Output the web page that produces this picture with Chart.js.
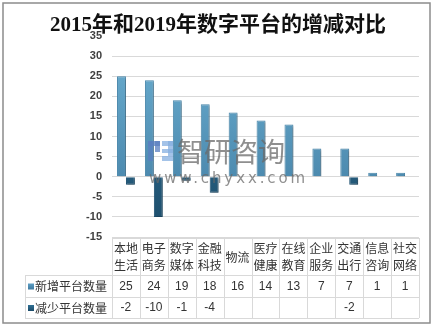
<!DOCTYPE html>
<html>
<head>
<meta charset="utf-8">
<script src="https://cdn.jsdelivr.net/npm/chart.js@4/dist/chart.umd.min.js"></script>
<style>
  html, body { margin: 0; padding: 0; background: #fff; }
  #wrap { width: 438px; height: 328px; position: relative; }
</style>
</head>
<body>
<div id="wrap"><canvas id="c" width="438" height="328"></canvas></div>
<script>
// Platform categories (header cells of the data table)
const categories = ['本地生活', '电子商务', '数字媒体', '金融科技', '物流', '医疗健康', '在线教育', '企业服务', '交通出行', '信息咨询', '社交网络'];
// Number of platforms added between 2015 and 2019
const addedCounts = [25, 24, 19, 18, 16, 14, 13, 7, 7, 1, 1];
// Number of platforms removed (blank where none)
const removedCounts = [-2, -10, -1, -4, null, null, null, null, -2, null, null];
const seriesNames = ['新增平台数量', '减少平台数量'];
const yTicks = [-15, -10, -5, 0, 5, 10, 15, 20, 25, 30, 35];
const titleText = '2015年和2019年数字平台的增减对比';

const CJK = '"Noto Sans CJK SC", "Noto Sans", sans-serif';

function barGradient(ctx, top, bottom, light, dark) {
  const g = ctx.createLinearGradient(0, top, 0, bottom);
  g.addColorStop(0, light);
  g.addColorStop(1, dark);
  return g;
}

const lightFill = (c) => {
  const a = c.chart.chartArea;
  if (!a) return '#5d9ec4';
  return barGradient(c.chart.ctx, a.top, a.bottom, '#6db1d3', '#3f7aa0');
};
const darkFill = (c) => {
  const a = c.chart.chartArea;
  if (!a) return '#245c7e';
  return barGradient(c.chart.ctx, a.top, a.bottom, '#3a7ea3', '#1b4b69');
};

// Frame, title, watermark and the data table below the plot
const decorations = {
  id: 'decorations',
  beforeDraw(chart) {
    const ctx = chart.ctx;
    ctx.save();
    ctx.fillStyle = '#ffffff';
    ctx.fillRect(0, 0, chart.width, chart.height);
    ctx.strokeStyle = '#8c8c8c';
    ctx.lineWidth = 1.5;
    ctx.strokeRect(3, 3, 427, 320);
    ctx.restore();
  },
  beforeDatasetsDraw(chart) {
    const ctx = chart.ctx;
    ctx.save();
    ctx.shadowColor = 'rgba(0,0,0,0.28)';
    ctx.shadowOffsetX = 1.5;
    ctx.shadowOffsetY = 1.5;
    ctx.shadowBlur = 2;
  },
  afterDatasetsDraw(chart) {
    chart.ctx.restore();
  },
  afterDraw(chart) {
    const ctx = chart.ctx;
    const x = chart.scales.x;
    const area = chart.chartArea;
    const n = categories.length;
    const step = (area.right - area.left) / n;

    // title
    ctx.save();
    ctx.fillStyle = '#111';
    ctx.font = 'bold 21px "Liberation Serif", ' + CJK;
    ctx.textAlign = 'center';
    ctx.textBaseline = 'middle';
    ctx.fillText(titleText, 218, 26);
    ctx.restore();

    // watermark
    ctx.save();
    ctx.globalAlpha = 0.75;
    ctx.fillStyle = '#5a7fc0';
    ctx.fillRect(148, 141, 12, 5);
    ctx.fillRect(148, 141, 5, 20);
    ctx.fillRect(155, 141, 5, 11);
    ctx.fillStyle = '#86afe0';
    ctx.fillRect(162, 141, 11, 5);
    ctx.fillRect(162, 149, 11, 4);
    ctx.fillRect(162, 156, 11, 5);
    ctx.fillRect(168, 141, 5, 15);
    ctx.fillStyle = '#6a6a6a';
    ctx.font = '27px ' + CJK;
    ctx.textBaseline = 'middle';
    ctx.fillText('智研咨询', 177, 152);
    ctx.font = '15px "DejaVu Sans", sans-serif';
    ctx.letterSpacing = '2.9px';
    ctx.fillText('www.chyxx.com', 149, 179);
    ctx.restore();

    // data table
    const tTop = area.bottom + 1, hBottom = 275, r1 = 297, r2 = 318, legLeft = 25;
    ctx.save();
    ctx.strokeStyle = '#d9d9d9';
    ctx.lineWidth = 1;
    ctx.beginPath();
    ctx.moveTo(area.left, tTop + 0.5); ctx.lineTo(area.right, tTop + 0.5);
    [hBottom, r1, r2].forEach(y => { ctx.moveTo(legLeft, y + 0.5); ctx.lineTo(area.right, y + 0.5); });
    for (let i = 0; i <= n; i++) {
      const vx = Math.round(area.left + i * step) + 0.5;
      ctx.moveTo(vx, tTop); ctx.lineTo(vx, r2);
    }
    ctx.moveTo(legLeft + 0.5, hBottom); ctx.lineTo(legLeft + 0.5, r2);
    ctx.stroke();

    ctx.fillStyle = '#333';
    ctx.textAlign = 'center';
    ctx.textBaseline = 'middle';
    ctx.font = '12px ' + CJK;
    categories.forEach((name, i) => {
      const cx = x.getPixelForValue(i);
      if (name.length > 2) {
        ctx.fillText(name.slice(0, 2), cx, 248);
        ctx.fillText(name.slice(2), cx, 265);
      } else {
        ctx.fillText(name, cx, 257);
      }
    });
    ctx.font = '12px "Liberation Sans", sans-serif';
    addedCounts.forEach((v, i) => {
      if (v !== null) ctx.fillText(String(v), x.getPixelForValue(i), 286.5);
    });
    removedCounts.forEach((v, i) => {
      if (v !== null) ctx.fillText(String(v), x.getPixelForValue(i), 308);
    });

    // legend keys in the first column
    const keys = [['#5d9fc5', '#3f7aa0'], ['#2f6f93', '#1b4b69']];
    [286.5, 308].forEach((cy, k) => {
      ctx.fillStyle = barGradient(ctx, cy - 3, cy + 3, keys[k][0], keys[k][1]);
      ctx.fillRect(28, cy - 3, 6, 6);
      ctx.fillStyle = '#333';
      ctx.textAlign = 'left';
      ctx.font = '12px ' + CJK;
      ctx.fillText(seriesNames[k], 35, cy);
    });
    ctx.restore();
  }
};

new Chart(document.getElementById('c'), {
  type: 'bar',
  data: {
    labels: categories,
    datasets: [
      {
        label: seriesNames[0],
        data: addedCounts,
        backgroundColor: lightFill,
        borderColor: '#4b89ad',
        borderWidth: 1,
        categoryPercentage: 0.64,
        barPercentage: 1.0
      },
      {
        label: seriesNames[1],
        data: removedCounts,
        backgroundColor: darkFill,
        borderColor: '#1f5272',
        borderWidth: 1,
        categoryPercentage: 0.64,
        barPercentage: 1.0
      }
    ]
  },
  options: {
    responsive: false,
    animation: false,
    devicePixelRatio: 1,
    layout: { padding: { top: 36, bottom: 91, right: 19, left: 0 } },
    plugins: {
      legend: { display: false },
      title: { display: false },
      tooltip: { enabled: false }
    },
    scales: {
      x: { display: false },
      y: {
        min: yTicks[0],
        max: yTicks[yTicks.length - 1],
        afterBuildTicks(scale) { scale.ticks = yTicks.map(v => ({ value: v })); },
        afterFit(scale) { scale.width = 112; },
        border: { display: false },
        grid: {
          drawTicks: false,
          color: (c) => (c.tick && c.tick.value === 35 ? 'rgba(0,0,0,0)' : '#d9d9d9'),
          lineWidth: 1
        },
        ticks: {
          padding: 10,
          color: '#404040',
          font: { family: '"Liberation Sans", sans-serif', size: 11, weight: 'bold' }
        }
      }
    }
  },
  plugins: [decorations]
});
</script>
</body>
</html>
